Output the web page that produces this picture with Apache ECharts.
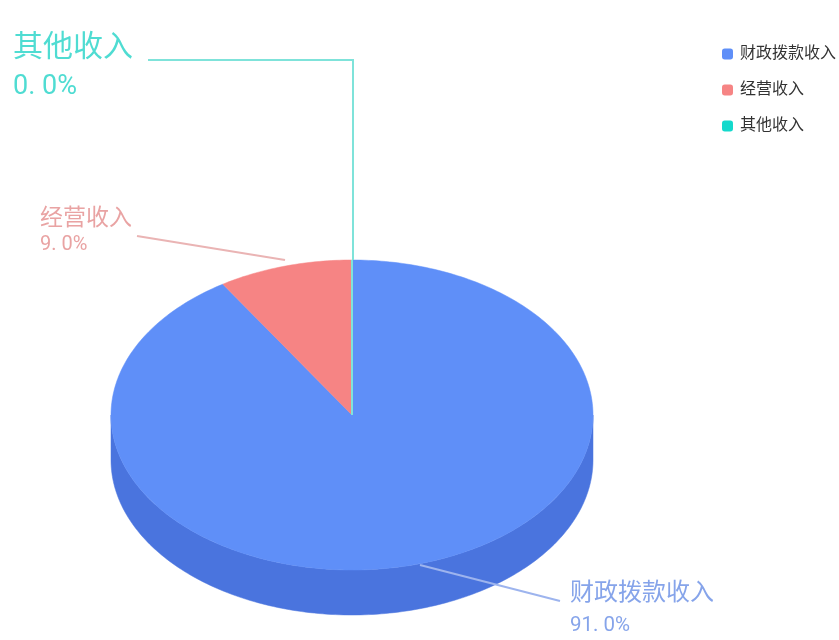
<!DOCTYPE html>
<html>
<head>
<meta charset="utf-8">
<script src="https://cdn.jsdelivr.net/npm/echarts@6/dist/echarts.min.js"></script>
<style>html,body{margin:0;padding:0;background:#fff}#c{width:839px;height:640px}</style>
</head>
<body>
<div id="c"></div>
<script>
const categories = ['财政拨款收入', '经营收入', '其他收入'];
const values = [91, 9, 0];
const topColors = ['#5f8ff8', '#f68484', '#14d9cc'];
const sideColors = ['#4a74de', '#d96a6a', '#10b8ad'];
const labelColors = ['#86a4ea', '#e9a3a3', '#4fdcd2'];
const lineColors = ['#9db4ee', '#eab4b4', '#7fe3da'];

const geo = { cx: 352, cy: 415, rx: 241, ry: 155, depth: 45 };
// label placement per category: leader path and text
const labelLayout = [
  { path: [[420, 565], [560, 601]], x: 570, nameY: 594, valueY: 626, nameSize: 24, valueSize: 20.5 },
  { path: [[137, 236], [285, 260]], x: 40, nameY: 219, valueY: 245, nameSize: 23, valueSize: 20 },
  { path: [[148, 60], [353, 60], [353, 260]], x: 13, nameY: 48, valueY: 87, nameSize: 30, valueSize: 27 }
];
const fontFamily = 'Roboto, "Noto Sans CJK SC", sans-serif';

const total = values.reduce((a, b) => a + b, 0);
// slices run clockwise from 12 o'clock
function sliceRange(idx) {
  let start = 0;
  for (let i = 0; i < idx; i++) start += values[i] / total * 360;
  return [start, start + values[idx] / total * 360];
}
function pt(deg, dy) {
  const r = deg * Math.PI / 180;
  return [geo.cx + geo.rx * Math.sin(r), geo.cy - geo.ry * Math.cos(r) + (dy || 0)];
}
function arc(a, b, dy) {
  const out = [];
  const n = Math.max(1, Math.ceil(Math.abs(b - a)));
  for (let i = 0; i <= n; i++) out.push(pt(a + (b - a) * i / n, dy));
  return out;
}
function renderSlice(params, api) {
  const idx = params.seriesIndex;
  const v = api.value(0);
  const [a, b] = sliceRange(idx);
  const children = [];
  // visible side wall: only the front half (90..270 degrees)
  const wa = Math.max(a, 90), wb = Math.min(b, 270);
  if (wb > wa) {
    children.push({
      type: 'polygon',
      shape: { points: arc(wa, wb, 0).concat(arc(wb, wa, geo.depth)) },
      style: { fill: sideColors[idx], stroke: sideColors[idx], lineWidth: 0.5 }
    });
  }
  children.push({
    type: 'polygon',
    shape: { points: [[geo.cx, geo.cy]].concat(arc(a, b, 0)) },
    style: { fill: topColors[idx], stroke: v === 0 ? lineColors[idx] : topColors[idx], lineWidth: v === 0 ? 2 : 0.5 }
  });
  const L = labelLayout[idx];
  children.push({
    type: 'polyline',
    shape: { points: L.path },
    style: { fill: null, stroke: lineColors[idx], lineWidth: 2 }
  });
  children.push({
    type: 'text',
    style: { x: L.x, y: L.nameY, text: categories[idx], fill: labelColors[idx],
      font: L.nameSize + 'px ' + fontFamily, textVerticalAlign: 'middle', textAlign: 'left' }
  });
  children.push({
    type: 'text',
    style: { x: L.x, y: L.valueY, text: v.toFixed(1).replace('.', '. ') + '%', fill: labelColors[idx],
      font: L.valueSize + 'px ' + fontFamily, textVerticalAlign: 'middle', textAlign: 'left' }
  });
  return { type: 'group', children };
}

const chart = echarts.init(document.getElementById('c'), null, { renderer: 'canvas' });
chart.setOption({
  animation: false,
  backgroundColor: '#fff',
  legend: {
    orient: 'vertical', left: 717, top: 41, itemWidth: 11, itemHeight: 11, itemGap: 20,
    icon: 'roundRect', data: categories,
    textStyle: { fontSize: 16, color: '#333', fontFamily: fontFamily, padding: [0, 0, 0, 2] }
  },
  series: categories.map((name, i) => ({
    type: 'custom', name, coordinateSystem: 'none', silent: true,
    itemStyle: { color: topColors[i] },
    renderItem: renderSlice,
    data: [[values[i]]]
  }))
});
</script>
</body>
</html>
